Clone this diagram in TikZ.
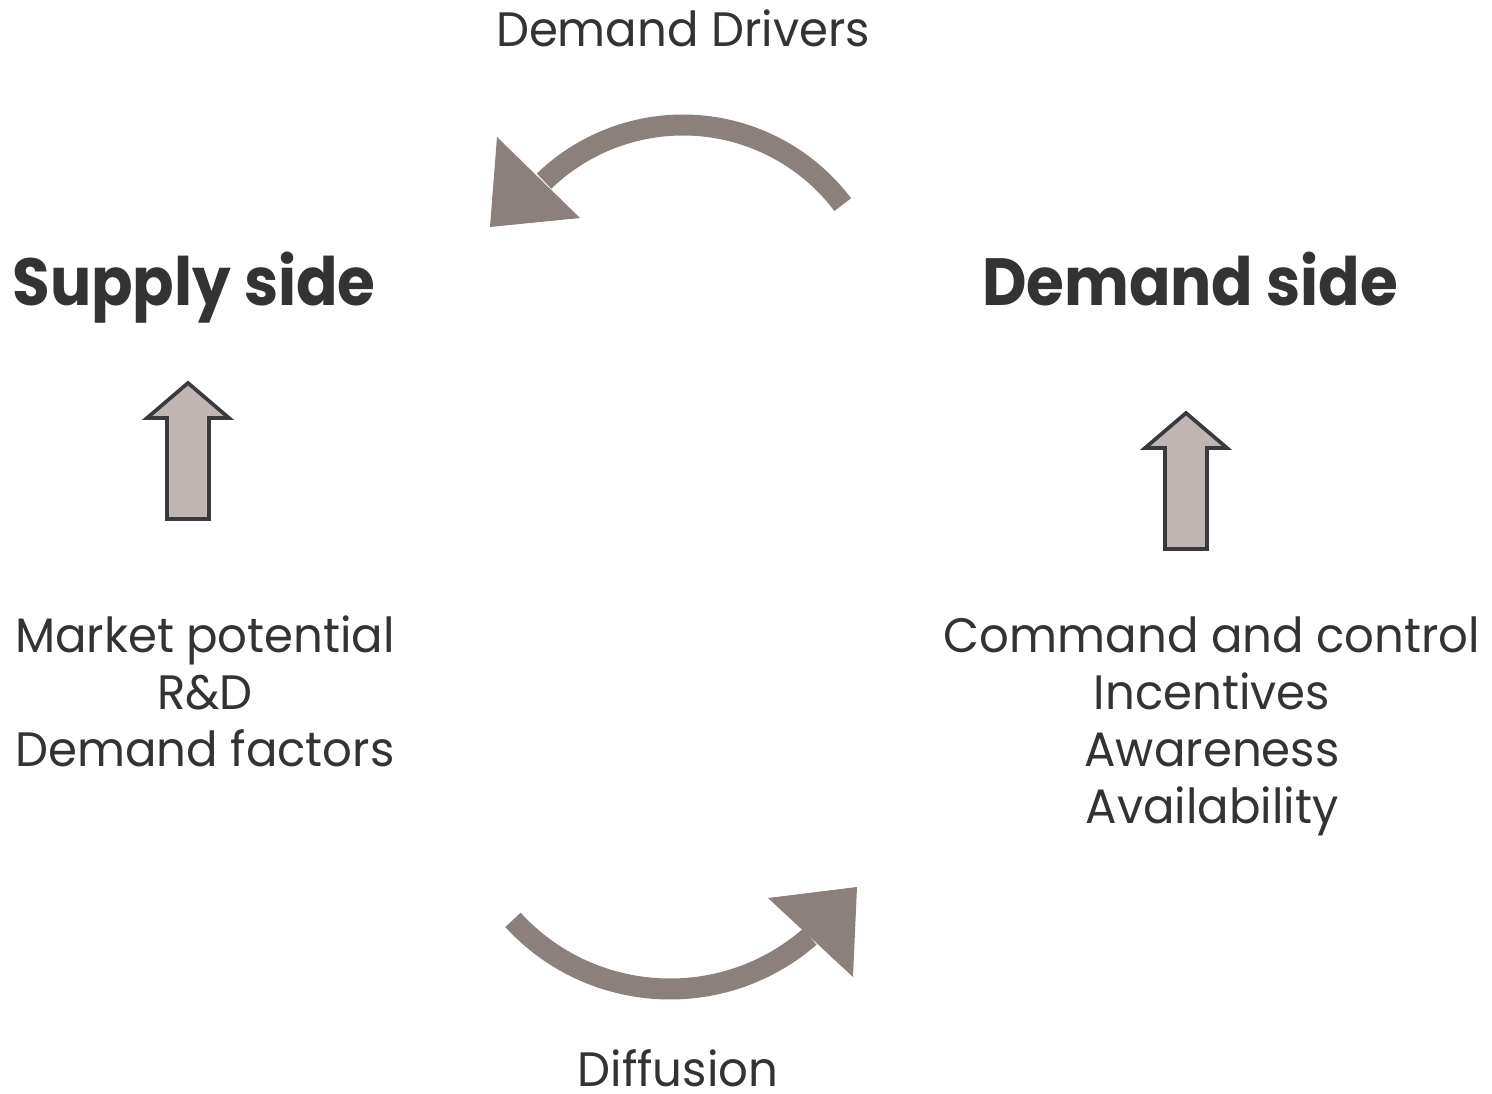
\documentclass[tikz,border=0pt]{standalone}
\usepackage{fontspec}
\setmainfont{Poppins}
\definecolor{txtgray}{RGB}{51,51,51}
\definecolor{arcgray}{RGB}{140,128,124}
\definecolor{boxfill}{RGB}{191,182,179}
\definecolor{boxline}{RGB}{58,57,61}
\begin{document}
\begin{tikzpicture}[x=0.02cm, y=0.02cm]
% define node styles
\tikzset{
  every node/.style = {text=txtgray, inner sep=0pt, anchor=base},
  heading/.style    = {font=\fontsize{38}{44}\selectfont\bfseries, xscale=0.917},
  plain/.style      = {font=\fontsize{27.5}{32.4}\selectfont, xscale=0.965},
  list/.style       = {plain, align=center},
  loop arc/.style   = {draw=arcgray, line width=0.42cm},
  loop tip/.style   = {fill=arcgray},
  up box/.style     = {draw=boxline, fill=boxfill, line width=2.1pt, line join=miter}
}
\useasboundingbox (0,0) rectangle (1492,-1093);

% side titles
\node[heading] (supply) at (194,-305) {Supply side};
\node[heading] (demand) at (1190,-305) {Demand side};

% factor lists (base = last line)
\node[list] (supplyf) at (205,-766) {Market potential\\R\&D\\Demand factors};
\node[list] (demandf) at (1212,-823) {Command and control\\Incentives\\Awareness\\Availability};

% arc labels
\node[plain] (drivers) at (683,-46) {Demand Drivers};
\node[plain, text depth=0pt] (diffusion) at (678,-1086) {Diffusion};

% block arrows
\foreach \n/\x/\y in {s/188/383, d/1186/413}
    \draw[up box] (\x,-\y) -- ++(41,-35) -- ++(-20,0) -- ++(0,-101)
        -- ++(-42,0) -- ++(0,101) -- ++(-20,0) -- cycle;

% curved arrows
\draw[loop arc] (683,-325) ++(37:200) arc (37:134:200);
\fill[loop tip] (490,-227) -- (497,-137) -- (580,-218) -- cycle;
\draw[loop arc] (670,-776) ++(-137.5:213) arc (-137.5:-49:213);
\fill[loop tip] (857,-887) -- (768,-898) -- (853,-977) -- cycle;

\end{tikzpicture}
\end{document}
